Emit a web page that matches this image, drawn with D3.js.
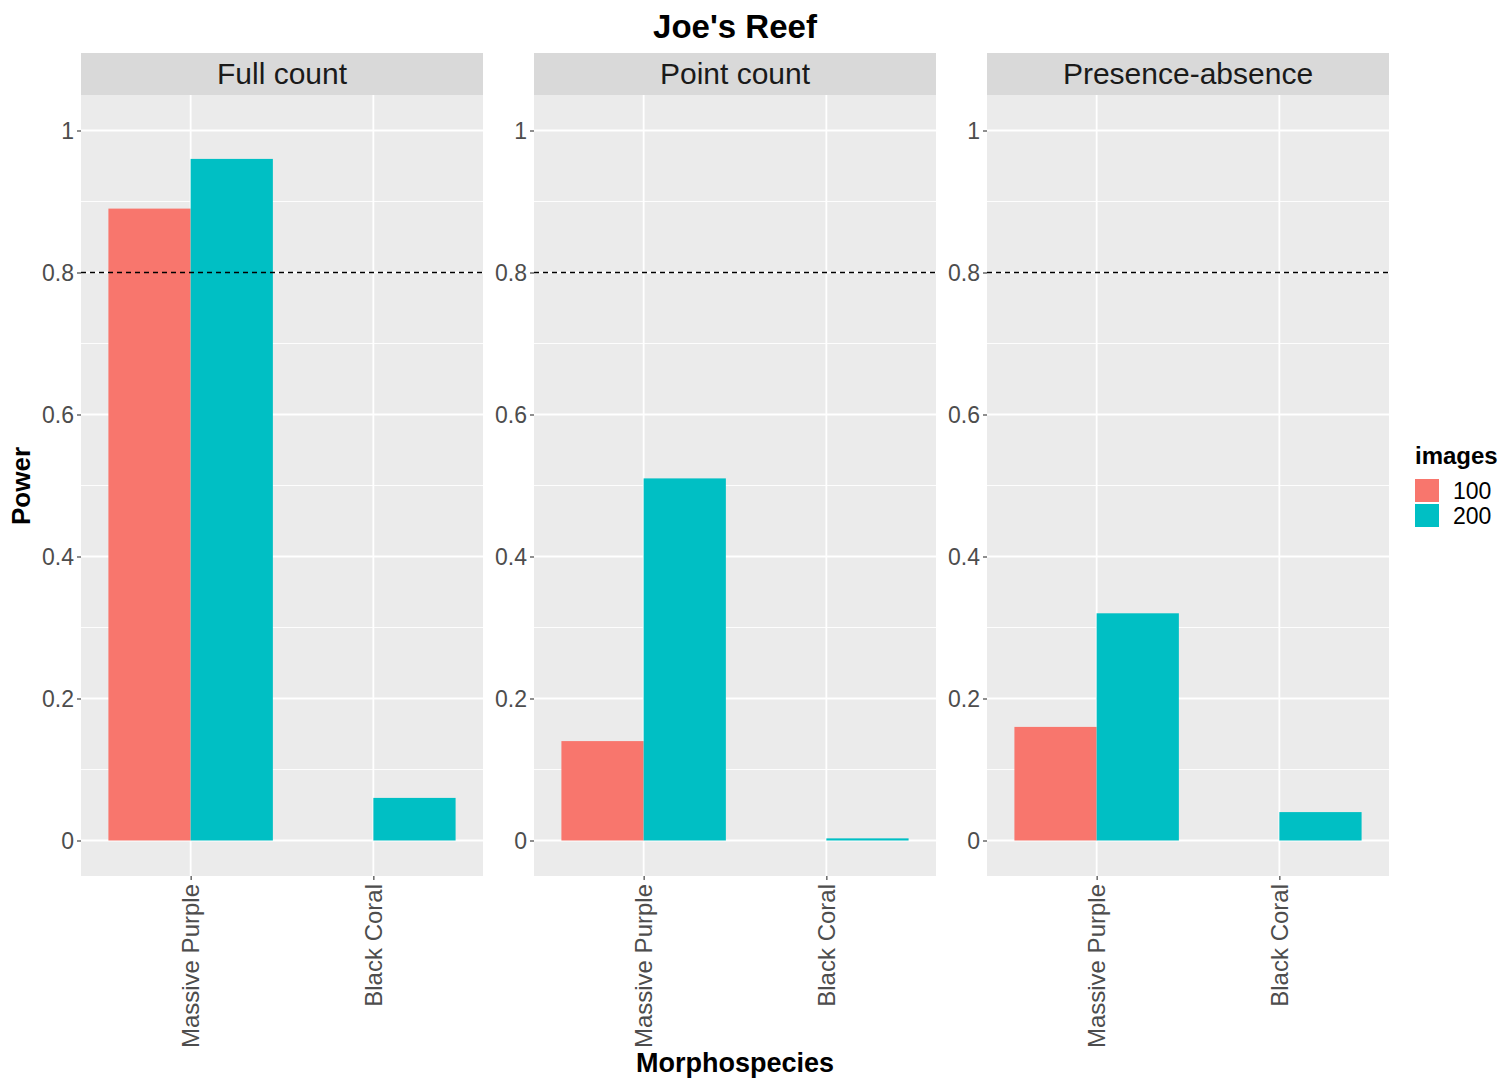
<!DOCTYPE html>
<html>
<head>
<meta charset="utf-8">
<script src="https://cdn.jsdelivr.net/npm/d3@7"></script>
<style>
  body { margin: 0; background: #fff; }
  svg text { font-family: "Liberation Sans", Arial, sans-serif; }
</style>
</head>
<body>
<svg id="chart" width="1509" height="1078"></svg>
<script>
// Power of detecting change per survey method, morphospecies and image count
const methods = ["Full count", "Point count", "Presence-absence"];
const species = ["Massive Purple", "Black Coral"];
const imageCounts = ["100", "200"];
// values[method][species] = [power at 100 images, power at 200 images]
const fullCount = [[0.89, 0.96], [0, 0.06]];
const pointCount = [[0.14, 0.51], [0, 0.003]];
const presenceAbsence = [[0.16, 0.32], [0, 0.04]];
const methodValues = [fullCount, pointCount, presenceAbsence];
const yTicks = [0, 0.2, 0.4, 0.6, 0.8, 1];
const yMinor = [0.1, 0.3, 0.5, 0.7, 0.9];
const threshold = 0.8;
const colours = ["#F8766D", "#00BFC4"];

const svg = d3.select("#chart");

const panelLefts = [81, 534, 987];
const panelW = 402;
const stripTop = 53, stripH = 42;
const panelTop = stripTop + stripH, panelBottom = 876;

const y = d3.scaleLinear().domain([-0.05, 1.05]).range([panelBottom, panelTop]);
const colour = d3.scaleOrdinal().domain(imageCounts).range(colours);

methods.forEach((m, i) => {
  const left = panelLefts[i];
  const g = svg.append("g").attr("transform", `translate(${left},0)`);
  // discrete x with ggplot-style 0.6 expansion
  const x = d3.scalePoint().domain(species).range([0, panelW]).padding(0.6);
  const step = x.step();
  const sub = d3.scaleBand().domain(imageCounts).range([-step * 0.45, step * 0.45]);

  // strip
  g.append("rect").attr("x", 0).attr("y", stripTop).attr("width", panelW).attr("height", stripH).attr("fill", "#D9D9D9");
  g.append("text").attr("x", panelW / 2).attr("y", stripTop + stripH / 2 + 10)
    .attr("text-anchor", "middle").attr("font-size", 30).attr("fill", "#1A1A1A").text(m);

  // panel background
  g.append("rect").attr("x", 0).attr("y", panelTop).attr("width", panelW).attr("height", panelBottom - panelTop).attr("fill", "#EBEBEB");

  // grid
  g.selectAll(".minor").data(yMinor).join("line")
    .attr("x1", 0).attr("x2", panelW).attr("y1", d => y(d)).attr("y2", d => y(d))
    .attr("stroke", "#fff").attr("stroke-width", 0.9);
  g.selectAll(".major").data(yTicks).join("line")
    .attr("x1", 0).attr("x2", panelW).attr("y1", d => y(d)).attr("y2", d => y(d))
    .attr("stroke", "#fff").attr("stroke-width", 1.8);
  g.selectAll(".vgrid").data(species).join("line")
    .attr("x1", d => x(d)).attr("x2", d => x(d)).attr("y1", panelTop).attr("y2", panelBottom)
    .attr("stroke", "#fff").attr("stroke-width", 1.8);

  // bars
  species.forEach((s, si) => {
    imageCounts.forEach((ic, ci) => {
      const v = methodValues[i][si][ci];
      if (v <= 0) return;
      g.append("rect")
        .attr("x", x(s) + sub(ic)).attr("width", sub.bandwidth())
        .attr("y", y(v)).attr("height", y(0) - y(v))
        .attr("fill", colour(ic));
    });
  });

  // threshold line
  g.append("line").attr("x1", 0).attr("x2", panelW).attr("y1", y(threshold)).attr("y2", y(threshold))
    .attr("stroke", "#000").attr("stroke-width", 1.4).attr("stroke-dasharray", "5,4");

  // y axis
  const ya = d3.axisLeft(y).tickValues(yTicks).tickSize(4).tickPadding(3).tickFormat(d3.format("~g"));
  const yg = g.append("g").call(ya);
  yg.select(".domain").remove();
  yg.selectAll(".tick line").attr("stroke", "#333").attr("stroke-width", 1.1);
  yg.selectAll(".tick text").attr("font-size", 23).attr("fill", "#4D4D4D").attr("dy", "0.35em");

  // x axis
  const xa = d3.axisBottom(x).tickSize(4).tickPadding(0);
  const xg = g.append("g").attr("transform", `translate(0,${panelBottom})`).call(xa);
  xg.select(".domain").remove();
  xg.selectAll(".tick line").attr("stroke", "#333").attr("stroke-width", 1.1);
  xg.selectAll(".tick text")
    .attr("font-size", 24).attr("fill", "#4D4D4D")
    .attr("text-anchor", "end").attr("dy", null)
    .attr("transform", "translate(8,8) rotate(-90)")
    .attr("x", 0).attr("y", 0);
});

// title
svg.append("text").attr("x", 735).attr("y", 38).attr("text-anchor", "middle")
  .attr("font-size", 33).attr("font-weight", "bold").attr("fill", "#000").text("Joe's Reef");

// axis titles
svg.append("text").attr("x", 735).attr("y", 1072).attr("text-anchor", "middle")
  .attr("font-size", 27).attr("font-weight", "bold").attr("fill", "#000").text("Morphospecies");
svg.append("text").attr("transform", "translate(30,486) rotate(-90)").attr("text-anchor", "middle")
  .attr("font-size", 26).attr("font-weight", "bold").attr("fill", "#000").text("Power");

// legend
const lg = svg.append("g").attr("transform", "translate(1415,0)");
lg.append("text").attr("x", 0).attr("y", 464).attr("font-size", 24).attr("font-weight", "bold").attr("fill", "#000").text("images");
imageCounts.forEach((ic, k) => {
  lg.append("rect").attr("x", 0).attr("y", 479 + k * 25).attr("width", 24).attr("height", 23).attr("fill", colour(ic));
  lg.append("text").attr("x", 38).attr("y", 499 + k * 25).attr("font-size", 23).attr("fill", "#000").text(ic);
});
</script>
</body>
</html>
